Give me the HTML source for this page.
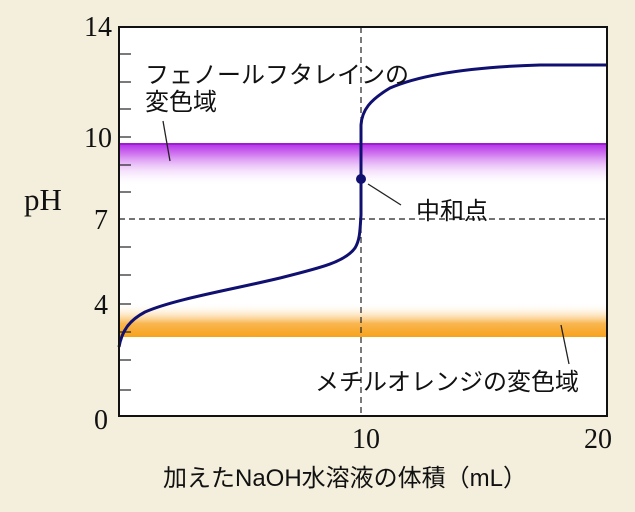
<!DOCTYPE html>
<html><head><meta charset="utf-8"><style>
body{margin:0;background:#f3efdc;}
svg{display:block}
.s{font-family:"Liberation Serif",serif;font-size:28px;fill:#111}
.j{font-family:"Liberation Sans","Noto Sans CJK JP",sans-serif;font-size:24px;fill:#111}
</style></head><body>
<svg width="635" height="512" viewBox="0 0 635 512">
<defs>
<linearGradient id="pu" x1="0" y1="0" x2="0" y2="1">
<stop offset="0" stop-color="#b530e8"/><stop offset="0.25" stop-color="#d27af0"/><stop offset="1" stop-color="#fff" stop-opacity="0"/></linearGradient>
<linearGradient id="or" x1="0" y1="1" x2="0" y2="0">
<stop offset="0" stop-color="#f7a21b"/><stop offset="0.4" stop-color="#f9b650"/><stop offset="1" stop-color="#fff" stop-opacity="0"/></linearGradient>
</defs>
<rect width="635" height="512" fill="#f3efdc"/>
<rect x="119" y="27" width="488" height="389" fill="#fff"/>
<rect x="119" y="144" width="488" height="42" fill="url(#pu)"/>
<line x1="119" y1="144" x2="607" y2="144" stroke="#9a1fd0" stroke-width="2"/>
<rect x="119" y="303" width="488" height="34" fill="url(#or)"/>
<line x1="361" y1="27" x2="361" y2="416" stroke="#222" stroke-width="1.2" stroke-dasharray="6,4"/>
<line x1="119" y1="219" x2="607" y2="219" stroke="#222" stroke-width="1.2" stroke-dasharray="6,4"/>
<g stroke="#222" stroke-width="1.2">
<line x1="119" y1="54" x2="131" y2="54"/><line x1="119" y1="82" x2="131" y2="82"/><line x1="119" y1="109" x2="131" y2="109"/><line x1="119" y1="137" x2="131" y2="137"/><line x1="119" y1="165" x2="131" y2="165"/><line x1="119" y1="192" x2="131" y2="192"/><line x1="119" y1="247" x2="131" y2="247"/><line x1="119" y1="275" x2="131" y2="275"/><line x1="119" y1="304" x2="131" y2="304"/><line x1="119" y1="332" x2="131" y2="332"/><line x1="119" y1="360" x2="131" y2="360"/><line x1="119" y1="390" x2="131" y2="390"/>
</g>
<path d="M119,347 C122,330 130,320 145,312 C175,299 230,290 280,278 C320,268 345,262 355,248 C360,240 360,230 361,215 L361,125 C362,110 370,100 390,88 C420,75 470,67 540,65 L607,65" fill="none" stroke="#101070" stroke-width="3"/>
<circle cx="361" cy="179" r="5" fill="#101070"/>
<line x1="368" y1="184" x2="401" y2="205" stroke="#222" stroke-width="1.3"/>
<line x1="163" y1="121" x2="170" y2="161" stroke="#222" stroke-width="1.3"/>
<line x1="561" y1="325" x2="569" y2="364" stroke="#222" stroke-width="1.3"/>
<rect x="119" y="27" width="488" height="389" fill="none" stroke="#111" stroke-width="2"/>
<text class="s" x="112" y="36" text-anchor="end">14</text>
<text class="s" x="112" y="147" text-anchor="end">10</text>
<text class="s" x="108" y="229" text-anchor="end">7</text>
<text class="s" x="108" y="314" text-anchor="end">4</text>
<text class="s" x="108" y="429" text-anchor="end">0</text>
<text class="s" x="24" y="210" style="font-size:31px">pH</text>
<text class="s" x="366" y="448" text-anchor="middle">10</text>
<text class="s" x="612" y="448" text-anchor="end">20</text>
<text class="j" x="145" y="83">フェノールフタレインの</text>
<text class="j" x="145" y="110">変色域</text>
<text class="j" x="416" y="219">中和点</text>
<text class="j" x="315" y="390">メチルオレンジの変色域</text>
<text class="j" x="163" y="486">加えたNaOH水溶液の体積（mL）</text>
</svg>
</body></html>
